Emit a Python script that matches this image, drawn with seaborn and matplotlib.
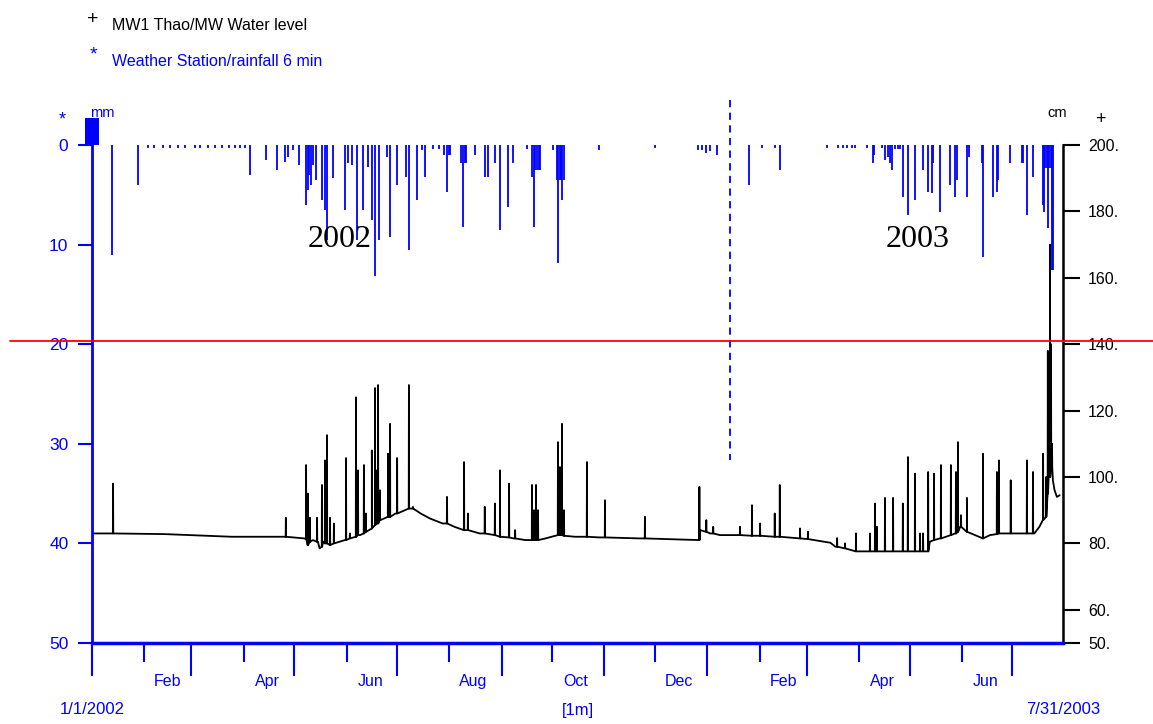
import numpy as np
import pandas as pd
import matplotlib
matplotlib.use("Agg")
import matplotlib.pyplot as plt
import seaborn as sns
from matplotlib.patches import Rectangle
from matplotlib.lines import Line2D
import matplotlib.transforms as mtransforms

sns.set_theme(style="white")
plt.rcParams['font.family'] = ['Liberation Sans', 'DejaVu Sans']

BLUE = '#0000FF'

# ---------------- data (day 0 = 1 Jan 2002, day 576 = end of 31 Jul 2003) ----------------
# Water level baseline (cm)
base_day = [0, 43, 83, 126, 128, 131, 134, 135, 137, 141, 150, 159, 166, 171, 176, 180, 189, 195,
            200.5, 208, 215, 222.5, 230, 242, 250, 257, 269, 278, 286.5, 301, 325, 359, 360.7,
            366.6, 372.5, 396, 420, 438, 441, 454, 496, 497, 503, 512, 515, 519, 528.5, 532.7,
            541.6, 559, 562, 564, 566, 567.5, 569, 570, 571, 572.4, 574]
base_cm = [83, 82.8, 82, 81.5, 79.5, 81, 80.5, 78.5, 80.5, 79.5, 81, 82.5, 84.5, 87, 88, 89, 90.5, 89,
           87.5, 86, 85, 84, 83, 82, 81.5, 81, 81.5, 82.5, 82, 81.8, 81.5, 81, 84,
           83, 82.5, 82.3, 81.5, 80.2, 79, 77.6, 77.6, 80.5, 81.5, 83, 85, 83.5, 81.5, 82.5,
           83, 83, 85, 87, 88, 100, 105, 99, 96, 94, 94.5]

# Water level spikes: day, foot level, peak level (cm)
spike_day = [12.5, 115, 127, 128, 129.3, 133.5, 136.4, 138.2, 139.4, 141.2, 143.5, 150.7, 153,
             156.6, 157.8, 161.3, 162.5, 166, 167.9, 169, 169.7, 170.8, 175.6, 176.8, 181, 188,
             190.4, 210.6, 220.7, 223, 233, 239, 242, 247.4, 251, 261, 262.2, 263.4, 264.6,
             276.4, 277.6, 278.8, 280, 293.6, 304.3, 328, 360.3, 364.4, 368.5, 384.4, 391.5,
             396.3, 405, 408, 420, 424.7, 442, 446.7, 453.2, 461.5, 464.5, 465.6, 470.4, 475.2,
             481, 484, 488.2, 491.2, 493, 496, 499.5, 503.6, 509.5, 512.5, 513.7, 515.5, 519,
             528.5, 536.8, 538, 545, 554.6, 558.2, 564.2, 566, 567, 568.3, 568.9, 569.5]
spike_foot = [83, 82, 81.3, 79.5, 80.5, 80.5, 79, 80, 80, 79.5, 80, 81, 81.5,
              82, 82.5, 83, 83.5, 84.5, 85.5, 86, 86, 87, 88, 88, 89, 90.5,
              90.5, 86, 84, 84, 83, 82.5, 82, 81.8, 81.5, 81, 81, 81, 81,
              82.5, 82.5, 82.5, 82.3, 82, 81.8, 81.5, 81, 83.5, 83, 82.5, 82.3,
              82.3, 82, 82, 81.5, 81.3, 79, 78.5, 77.6, 77.6, 77.6, 77.6, 77.6, 77.6,
              77.6, 77.6, 77.6, 77.6, 77.6, 77.6, 81, 81.5, 82.5, 83, 83.5, 85, 83.5,
              81.5, 82.8, 83, 83, 83, 83, 87, 88, 95, 100, 103, 103]
spike_peak = [98, 87.7, 103.6, 95, 87.7, 87.7, 97.6, 105, 112.6, 87.7, 86, 105.7, 83,
              124, 102, 103.6, 89, 108, 126.8, 102, 127.7, 96, 107, 116, 105.7, 127.7,
              91, 94, 104.5, 89, 91, 92, 102, 98, 84, 97.6, 90, 97.6, 90,
              110.5, 103, 116, 90, 104.5, 93, 88, 97, 87, 85, 85, 91.5,
              86, 89, 97.6, 84.5, 83.5, 81.6, 80, 83, 83, 92, 85, 93.7, 93.7,
              92, 106, 101, 83, 83, 101.5, 101, 103.6, 103.6, 101.5, 110.5, 88.5, 93.7,
              107, 101.5, 105, 99, 105, 101.5, 107, 100, 138, 170, 140, 110]

# Rainfall (mm per 6 min, plotted downward from 0)
rain_day = [12, 27, 33, 37, 42, 46, 51, 55, 61, 64, 69, 73, 77, 81, 85, 88, 91,
            94, 103, 110, 114.5, 116, 119, 123, 127, 128, 129, 130, 131, 133, 136.5, 138,
            139.5, 143, 150, 152, 154, 157, 161, 164, 166, 168, 170, 175, 177, 181, 186,
            188, 193, 196, 197.5, 202, 206, 209, 210.5, 211.5, 212.5, 219, 220, 221, 222,
            227, 233, 235, 239, 242, 247, 250, 258, 261, 262, 263, 264, 265, 266, 273.5,
            276, 276.5, 277.5, 278.5, 279, 280, 301, 334, 359.5, 362, 364, 366.6, 371,
            390, 397.4, 405, 408, 436, 442.5, 445.5, 448, 451, 452.6, 460, 463, 464,
            468.6, 470.4, 472, 473.4, 474.5, 476.3, 478, 479.3, 481, 484, 488, 493, 496,
            498, 499, 503, 509, 512, 513, 519, 520, 528, 528.5, 534.5, 537, 537.5, 544.5,
            551.7, 552.5, 554.6, 558, 564, 564.8, 565.5, 566.3, 567, 567.8, 568.6, 569.4, 570]
rain_mm = [11.0, 4.0, 0.3, 0.3, 0.3, 0.3, 0.3, 0.3, 0.3, 0.3, 0.3, 0.3, 0.3, 0.3, 0.3, 0.3, 0.3,
           3.0, 1.5, 2.5, 1.7, 1.2, 0.5, 2.0, 6.0, 4.5, 3.0, 4.0, 2.0, 3.5, 5.5, 6.5,
           9.5, 3.3, 6.5, 1.8, 2.0, 9.5, 6.5, 2.2, 7.5, 13.2, 9.5, 1.2, 9.2, 4.0, 3.2,
           10.5, 5.5, 0.5, 3.2, 0.4, 0.4, 1.0, 4.7, 1.0, 1.0, 1.8, 8.2, 1.8, 1.8,
           1.0, 3.2, 3.2, 1.8, 8.5, 6.2, 1.8, 0.4, 3.2, 8.2, 2.5, 2.5, 2.5, 2.5, 0.5,
           3.5, 11.8, 3.5, 3.5, 5.5, 3.5, 0.5, 0.3, 0.5, 0.5, 0.8, 0.6, 1.0,
           4.0, 0.3, 0.3, 2.5, 0.3, 0.3, 0.3, 0.3, 0.3, 0.3, 0.3, 1.8, 1.0,
           0.3, 1.5, 1.2, 1.8, 2.5, 0.4, 0.4, 0.4, 5.2, 7.0, 5.5, 2.5, 4.7,
           4.8, 1.8, 6.7, 4.0, 5.2, 3.5, 5.2, 1.2, 1.8, 11.2, 5.2, 4.7, 3.5, 1.8,
           1.8, 1.8, 7.0, 3.2, 6.0, 6.7, 2.3, 2.3, 8.3, 2.3, 2.3, 12.5, 12.5]

left_ticks = [0, 10, 20, 30, 40, 50]
right_ticks = [50, 60, 80, 100, 120, 140, 160, 180, 200]
right_labels = ["50.", "60.", "80.", "100.", "120.", "140.", "160.", "180.", "200."]
month_labels = ["Feb", "Apr", "Jun", "Aug", "Oct", "Dec", "Feb", "Apr", "Jun"]
start_label, mid_label, end_label = "1/1/2002", "[1m]", "7/31/2003"
legend_water = "MW1 Thao/MW Water level"
legend_rain = "Weather Station/rainfall 6 min"

# ---------------- build water series ----------------
pts = list(zip(base_day, base_cm))
for d, f, p in zip(spike_day, spike_foot, spike_peak):
    pts += [(d - 0.12, f), (d, p), (d + 0.12, f)]
pts.sort()
water = pd.DataFrame(pts, columns=["day", "cm"])

# month tick positions
t0 = pd.Timestamp("2002-01-01")
ms = pd.date_range("2002-01-01", "2003-07-01", freq="MS")
ms_days = np.array((ms - t0).days)
long_ticks = ms_days[0::2]
short_ticks = ms_days[1::2]
mid_days = short_ticks + 14

# ---------------- figure ----------------
fig = plt.figure(figsize=(11.53, 7.24), dpi=100)
fig.patch.set_facecolor("white")
ax = fig.add_axes([92 / 1153, 1 - 643 / 724, 971 / 1153, 498 / 724])
ax2 = ax.twinx()
ax.set_zorder(ax2.get_zorder() + 1)
ax.patch.set_visible(False)

sns.lineplot(data=water, x="day", y="cm", ax=ax2, color="black", lw=1.3,
             estimator=None, sort=False, legend=False)
ax.vlines(rain_day, 0, rain_mm, color=BLUE, lw=1.3)
ax.add_patch(Rectangle((-4.2, -2.7), 8.5, 2.7, color=BLUE, clip_on=False, lw=0))

ax.set_xlim(0, 576)
ax.set_ylim(50, 0)
ax2.set_ylim(50, 200)
ax.set_xlabel("")
ax.set_ylabel("")
ax2.set_xlabel("")
ax2.set_ylabel("")

for a in (ax, ax2):
    a.spines["top"].set_visible(False)
    a.grid(False)
ax.spines["right"].set_visible(False)
ax2.spines["left"].set_visible(False)
ax2.spines["bottom"].set_visible(False)
ax.spines["left"].set_color(BLUE)
ax.spines["left"].set_linewidth(2)
ax.spines["bottom"].set_color(BLUE)
ax.spines["bottom"].set_linewidth(2.5)
ax2.spines["right"].set_color("black")
ax2.spines["right"].set_linewidth(1.8)

ax.set_yticks(left_ticks)
ax.set_yticklabels([str(v) for v in left_ticks])
ax.tick_params(axis="y", left=True, right=False, direction="out", length=10, width=1.5,
               color=BLUE, labelcolor=BLUE, labelsize=12.5, pad=7)
ax2.set_yticks(right_ticks)
ax2.set_yticklabels(right_labels)
ax2.tick_params(axis="y", right=True, left=False, direction="out", length=12, width=1.5,
                color="black", labelcolor="black", labelsize=11.5, pad=6)

ax.set_xticks(long_ticks)
ax.set_xticklabels([""] * len(long_ticks))
ax.set_xticks(short_ticks, minor=True)
ax.tick_params(axis="x", which="major", bottom=True, direction="out", length=24, width=1.5, color=BLUE)
ax.tick_params(axis="x", which="minor", bottom=True, direction="out", length=14, width=1.5, color=BLUE)
ax2.tick_params(axis="x", bottom=False, top=False, labelbottom=False)

sec = ax.secondary_xaxis("bottom")
sec.set_xticks(mid_days, labels=month_labels)
sec.tick_params(length=0, pad=22, labelcolor=BLUE, labelsize=11.5)
sec.spines["bottom"].set_visible(False)

trans = mtransforms.blended_transform_factory(ax.transData, ax.transAxes)
ybot = (643 - 710) / 498
ax.text(0, ybot, start_label, transform=trans, ha="center", va="center", color=BLUE, fontsize=12)
ax.text(288, ybot, mid_label, transform=trans, ha="center", va="center", color=BLUE, fontsize=12)
ax.text(576, ybot, end_label, transform=trans, ha="center", va="center", color=BLUE, fontsize=12)

ax.text(147, 9.5, "2002", ha="center", va="center", color="black", fontsize=23,
        family=["Liberation Serif", "DejaVu Serif"])
ax.text(489.5, 9.5, "2003", ha="center", va="center", color="black", fontsize=23,
        family=["Liberation Serif", "DejaVu Serif"])

# dashed separator between the years
ax.plot([378.5, 378.5], [-4.5, 31.6], color=BLUE, lw=1.3, ls=(0, (4, 3)), clip_on=False)

# red reference line across the whole figure
fig.add_artist(Line2D([10 / 1153, 1], [1 - 341 / 724] * 2, color="red", lw=1.3,
                      transform=fig.transFigure, zorder=10))

def fy(p):
    return 1 - p / 724

def fx(p):
    return p / 1153

fig.text(fx(93), fy(19), "+", color="black", fontsize=14, va="center", ha="center")
fig.text(fx(112), fy(26), legend_water, color="black", fontsize=11.5, va="center", ha="left")
fig.text(fx(93), fy(55), "*", color=BLUE, fontsize=14, va="center", ha="center")
fig.text(fx(112), fy(62), legend_rain, color=BLUE, fontsize=11.5, va="center", ha="left")
fig.text(fx(62), fy(120), "*", color=BLUE, fontsize=13, va="center", ha="center")
fig.text(fx(90), fy(113), "mm", color=BLUE, fontsize=10.5, va="center", ha="left")
fig.text(fx(1047), fy(113), "cm", color="black", fontsize=10.5, va="center", ha="left")
fig.text(fx(1100), fy(120), "+", color="black", fontsize=13, va="center", ha="center")

fig.savefig("out.png", dpi=100, facecolor="white")
